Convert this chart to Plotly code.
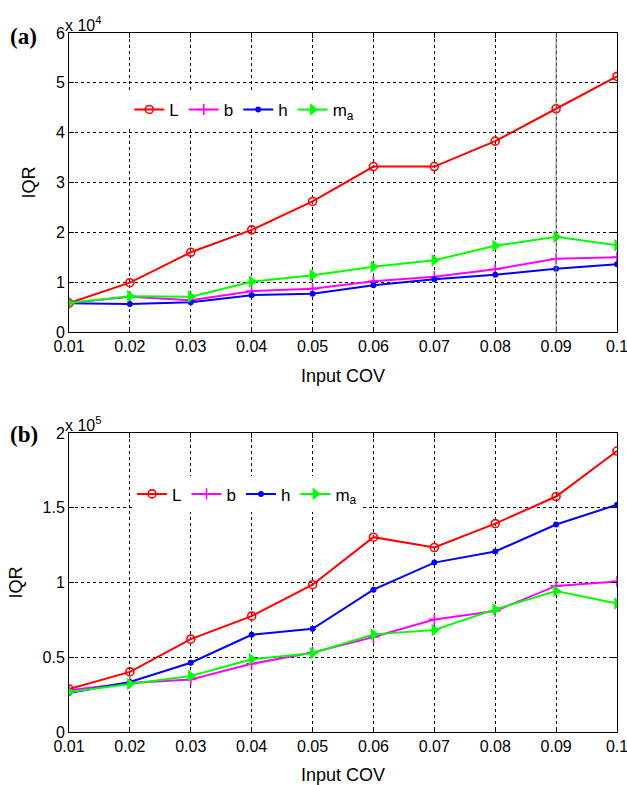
import plotly.graph_objects as go
from plotly.subplots import make_subplots

# Input coefficient of variation (shared x values)
cov = [0.01, 0.02, 0.03, 0.04, 0.05, 0.06, 0.07, 0.08, 0.09, 0.10]

# Panel (a): IQR values
a_L = [5800, 9900, 16000, 20500, 26200, 33200, 33200, 38300, 44800, 51300]
a_b = [5800, 7100, 6400, 8200, 8700, 10200, 11100, 12600, 14700, 15000]
a_h = [5800, 5600, 6000, 7400, 7700, 9400, 10600, 11500, 12700, 13600]
a_ma = [5800, 7200, 7100, 10100, 11400, 13100, 14400, 17300, 19100, 17400]

# Panel (b): IQR values
b_L = [28800, 40200, 62100, 77500, 98500, 130300, 123400, 139400, 157500, 187900]
b_b = [28000, 32800, 35100, 45600, 53200, 63500, 75300, 80900, 97700, 100600]
b_h = [26100, 33500, 46300, 65000, 69000, 95200, 113300, 120700, 138800, 152000]
b_ma = [26800, 32200, 37500, 48700, 52700, 65300, 68200, 82000, 94300, 86000]

series_names = ["L", "b", "h", "m<sub>a</sub>"]
x_ticks = [0.01, 0.02, 0.03, 0.04, 0.05, 0.06, 0.07, 0.08, 0.09, 0.10]
x_ticktext = ["0.01", "0.02", "0.03", "0.04", "0.05", "0.06", "0.07", "0.08", "0.09", "0.1"]
a_yticks = [0, 10000, 20000, 30000, 40000, 50000, 60000]
a_yticktext = ["0", "1", "2", "3", "4", "5", "6"]
b_yticks = [0, 50000, 100000, 150000, 200000]
b_yticktext = ["0", "0.5", "1", "1.5", "2"]

FONT = "Liberation Sans, Arial, sans-serif"

styles = [
    dict(color="#ff0000", marker=dict(symbol="circle-open", size=8, line=dict(width=1.6, color="#ff0000"))),
    dict(color="#ff00ff", marker=dict(symbol="cross-thin-open", size=8, line=dict(width=1.6, color="#ff00ff"))),
    dict(color="#0000ff", marker=dict(symbol="circle", size=6, line=dict(width=0))),
    dict(color="#00ff00", marker=dict(symbol="triangle-right", size=11, line=dict(width=0))),
]

fig = make_subplots(rows=2, cols=1)

for row, data, leg in [(1, [a_L, a_b, a_h, a_ma], "legend"), (2, [b_L, b_b, b_h, b_ma], "legend2")]:
    for name, ys, st in zip(series_names, data, styles):
        m = dict(st["marker"])
        m["color"] = st["color"]
        fig.add_trace(
            go.Scatter(
                x=cov, y=ys, name=name, mode="lines+markers",
                line=dict(color=st["color"], width=2),
                marker=m, legend=leg, showlegend=True,
            ),
            row=row, col=1,
        )

axis_common = dict(
    showline=True, linecolor="black", linewidth=1, mirror="ticks",
    ticks="inside", ticklen=5, tickcolor="black",
    showgrid=True, gridcolor="black", griddash="dot", gridwidth=1,
    zeroline=False, tickfont=dict(family=FONT, size=16, color="black"),
    automargin=False, ticklabeloverflow="allow",
)

fig.update_xaxes(**axis_common, range=[0.01, 0.1], tickvals=x_ticks, ticktext=x_ticktext,
                 title=dict(text="Input COV", font=dict(family=FONT, size=18, color="black"), standoff=15))
fig.update_yaxes(**axis_common, title=dict(text="IQR", font=dict(family=FONT, size=18, color="black")))

fig.update_layout(
    xaxis=dict(domain=[0, 1]),
    yaxis=dict(domain=[0.5722, 1.0], range=[0, 60000], tickvals=a_yticks, ticktext=a_yticktext),
    xaxis2=dict(domain=[0, 1]),
    yaxis2=dict(domain=[0.0, 0.4278], range=[0, 200000], tickvals=b_yticks, ticktext=b_yticktext),
)

legend_common = dict(
    orientation="h", xanchor="left", yanchor="middle",
    bgcolor="white", borderwidth=0,
    font=dict(family=FONT, size=17, color="black"),
    itemwidth=30, tracegroupgap=0,
)
fig.update_layout(
    legend=dict(**legend_common, x=0.11, y=0.89),
    legend2=dict(**legend_common, x=0.115, y=0.34),
)

# Solid vertical line at x = 0.09 in panel (a)
fig.add_shape(type="line", xref="x", yref="y domain", x0=0.09, x1=0.09, y0=0, y1=1,
              line=dict(color="#808080", width=1))

annots = [
    dict(text="<b>(a)</b>", x=-0.083, y=0.995, font=dict(family="Liberation Serif, Times New Roman, serif", size=23)),
    dict(text="<b>(b)</b>", x=-0.083, y=0.426, font=dict(family="Liberation Serif, Times New Roman, serif", size=23)),
]
for a in annots:
    fig.add_annotation(xref="paper", yref="paper", xanchor="center", yanchor="middle",
                       showarrow=False, text=a["text"], x=a["x"], y=a["y"], font=dict(a["font"], color="black"))

for ytop in [1.0, 0.4278]:
    fig.add_annotation(xref="paper", yref="paper", x=-0.011, y=ytop - 0.004, xanchor="left", yanchor="bottom",
                       showarrow=False, text="x 10<sup>%s</sup>" % ("4" if ytop == 1.0 else "5"),
                       font=dict(family=FONT, size=16, color="black"))

fig.update_layout(
    width=627, height=785,
    margin=dict(l=69, r=10, t=33, b=53),
    paper_bgcolor="white", plot_bgcolor="white",
    font=dict(family=FONT, color="black"),
)

fig.write_html("out.html")
